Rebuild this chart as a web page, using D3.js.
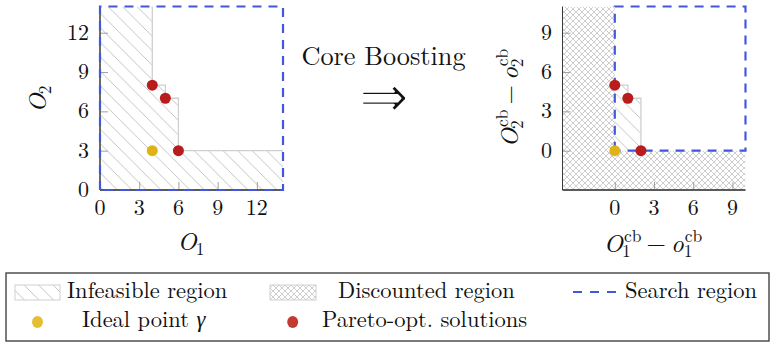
<!DOCTYPE html>
<html>
<head>
<meta charset="utf-8">
<script src="https://cdn.jsdelivr.net/npm/d3@7"></script>
<style>
  html, body { margin: 0; padding: 0; background: #fff; }
  svg { display: block; }
</style>
</head>
<body>
<svg id="chart" width="772" height="343"></svg>
<script>
// ---- data ----
const objDomain = [0, 14];                 // original objective space O1, O2
const objTicks = [0, 3, 6, 9, 12];
const paretoPoints = [[4, 8], [5, 7], [6, 3]];
const idealPoint = [4, 3];

const cbDomainX = [-4, 10];                // core-boosted space O^cb - o^cb
const cbDomainY = [-3, 11];
const cbTicks = [0, 3, 6, 9];
const cbPareto = [[0, 5], [1, 4], [2, 0]];
const cbIdeal = [0, 0];

const legendRow1 = ["Infeasible region", "Discounted region", "Search region"];

// ---- styles ----
const FONT = '"Latin Modern Roman", "Liberation Serif", serif';
const BLUE = "#4357dd", RED = "#b81c1c", GOLD = "#dfb314";
const HATCH = "#bdbdbd", TICK = "#a0a0a0", AXIS = "#5a5a5a";

const svg = d3.select("#chart").style("font-family", FONT);
const defs = svg.append("defs");

function txt(parent, size) {
  return parent.append("text").style("font-family", FONT).style("font-size", size + "px").attr("fill", "#111");
}

// north-west lines hatch
const hp = defs.append("pattern").attr("id", "nwlines")
  .attr("patternUnits", "userSpaceOnUse").attr("width", 14.5).attr("height", 14.5);
hp.append("path").attr("d", "M-2,-2L16.5,16.5M-2,12.5L2,16.5M12.5,-2L16.5,2")
  .attr("stroke", HATCH).attr("stroke-width", 0.9).attr("fill", "none");

// crosshatch
const cp = defs.append("pattern").attr("id", "xhatch")
  .attr("patternUnits", "userSpaceOnUse").attr("width", 6).attr("height", 6);
cp.append("path").attr("d", "M0,0L6,6M6,0L0,6")
  .attr("stroke", "#c9c9c9").attr("stroke-width", 0.9).attr("fill", "none");

// staircase of the dominated region through sorted Pareto points
function staircase(pts, top, right) {
  const s = pts.slice().sort((a, b) => a[0] - b[0]);
  const out = [];
  if (top !== null) out.push([s[0][0], top]);
  s.forEach((p, i) => {
    if (i > 0) out.push([p[0], s[i - 1][1]]);
    out.push(p);
  });
  if (right !== null) out.push([right, s[s.length - 1][1]]);
  return out;
}

// math-style label built from base / sup / sub pieces
function mathLabel(parent, parts, x, y, rot) {
  const g = parent.append("g").attr("transform", `translate(${x},${y}) rotate(${rot || 0})`);
  const inner = g.append("g");
  let cx = 0, pend = 0;
  parts.forEach(p => {
    if (p.type === "base" && pend) { cx += pend; pend = 0; }
    const t = txt(inner, p.size).attr("x", cx + (p.dx || 0)).attr("y", p.dy || 0)
      .style("font-style", p.italic ? "italic" : "normal")
      .text(p.t);
    const w = t.node().getComputedTextLength() + (p.dx || 0);
    if (p.type === "base") cx += w + (p.kern || 0);
    else if (p.type === "sup") pend = w;
    else { cx += Math.max(pend, w); pend = 0; }
  });
  cx += pend;
  inner.attr("transform", `translate(${-cx / 2},0)`);
  return g;
}

const BS = 25, SS = 17.5;
const O = (sub) => [
  { type: "base", t: "O", italic: true, size: BS },
  { type: "sub", t: sub, size: SS, dy: 5, dx: -1 }
];
const Ocb = (sub, lower) => [
  { type: "base", t: lower ? "o" : "O", italic: true, size: BS },
  { type: "sup", t: "cb", size: SS, dy: -10.5, dx: 1 },
  { type: "sub", t: sub, size: SS, dy: 5, dx: lower ? 0 : -1 }
];

// ---------------- left panel ----------------
{
  const x = d3.scaleLinear().domain(objDomain).range([100, 283]);
  const y = d3.scaleLinear().domain(objDomain).range([190, 6.5]);
  const g = svg.append("g");
  defs.append("clipPath").attr("id", "clipL").append("rect")
    .attr("x", 100).attr("y", 6.5).attr("width", 183).attr("height", 183.5);
  const pc = g.append("g").attr("clip-path", "url(#clipL)");

  const stair = staircase(paretoPoints, objDomain[1], objDomain[1]);
  const poly = stair.concat([[objDomain[1], objDomain[0]], [objDomain[0], objDomain[0]], [objDomain[0], objDomain[1]]]);
  const line = d3.line().x(d => x(d[0])).y(d => y(d[1]));
  pc.append("path").attr("d", line(poly) + "Z").attr("fill", "url(#nwlines)");
  pc.append("path").attr("d", line(stair)).attr("fill", "none").attr("stroke", "#cfcfcf").attr("stroke-width", 1.3);

  // ticks pointing inward
  const xa = d3.axisTop(x).tickValues(objTicks).tickSize(8).tickFormat("");
  const ya = d3.axisRight(y).tickValues(objTicks).tickSize(8).tickFormat("");
  const gx = g.append("g").attr("transform", `translate(0,${y(0)})`).call(xa);
  const gy = g.append("g").attr("transform", `translate(${x(0)},0)`).call(ya);
  [gx, gy].forEach(a => { a.select(".domain").remove(); a.selectAll("line").attr("stroke", TICK).attr("stroke-width", 1); });

  g.append("line").attr("x1", x(0)).attr("x2", x(14)).attr("y1", y(0)).attr("y2", y(0)).attr("stroke", AXIS).attr("stroke-width", 1.8);
  g.append("line").attr("x1", x(0)).attr("x2", x(0)).attr("y1", y(0)).attr("y2", y(14)).attr("stroke", AXIS).attr("stroke-width", 1.8);

  // search region
  g.append("path").attr("d", line([[0, 0], [0, 14], [14, 14], [14, 0], [0, 0]]))
    .attr("fill", "none").attr("stroke", BLUE).attr("stroke-width", 2.2).attr("stroke-dasharray", "9,7");

  objTicks.forEach(d => txt(g, 22).attr("x", x(d)).attr("y", 215).attr("text-anchor", "middle").text(d));
  objTicks.forEach(d => txt(g, 22).attr("x", 89).attr("y", y(d) + 7).attr("text-anchor", "end").text(d));

  g.append("circle").attr("cx", x(idealPoint[0])).attr("cy", y(idealPoint[1])).attr("r", 5.5).attr("fill", GOLD);
  g.selectAll("circle.p").data(paretoPoints).join("circle").attr("class", "p")
    .attr("cx", d => x(d[0])).attr("cy", d => y(d[1])).attr("r", 5.5).attr("fill", RED);

  mathLabel(g, O("1"), 191, 250, 0);
  mathLabel(g, O("2"), 46, 99, -90);
}

// ---------------- centre ----------------
txt(svg, 26.3).attr("x", 383.5).attr("y", 65).attr("text-anchor", "middle").text("Core Boosting");
// implication arrow, thinned with a white outline
svg.append("text").attr("x", 384).attr("y", 116.5).attr("text-anchor", "middle").attr("fill", "#111")
  .attr("stroke", "#fff").attr("stroke-width", 2.2).attr("stroke-linejoin", "round")
  .style("font-family", '"DejaVu Sans"').style("font-size", "60px").text("\u21d2");

// ---------------- right panel ----------------
{
  const x = d3.scaleLinear().domain(cbDomainX).range([562.5, 745.5]);
  const y = d3.scaleLinear().domain(cbDomainY).range([190, 6.5]);
  const g = svg.append("g");
  defs.append("clipPath").attr("id", "clipR").append("rect")
    .attr("x", 562.5).attr("y", 6.5).attr("width", 183).attr("height", 183.5);
  const pc = g.append("g").attr("clip-path", "url(#clipR)");
  const line = d3.line().x(d => x(d[0])).y(d => y(d[1]));

  // discounted region: everything outside the positive quadrant
  const outer = line([[cbDomainX[0], cbDomainY[0]], [cbDomainX[1], cbDomainY[0]], [cbDomainX[1], cbDomainY[1]], [cbDomainX[0], cbDomainY[1]]]) + "Z";
  const quad = line([[0, 0], [cbDomainX[1], 0], [cbDomainX[1], cbDomainY[1]], [0, cbDomainY[1]]]) + "Z";
  pc.append("path").attr("d", outer + quad).attr("fill-rule", "evenodd").attr("fill", "url(#xhatch)");

  const stair = staircase(cbPareto, null, null);
  const poly = stair.concat([cbIdeal]);
  pc.append("path").attr("d", line(poly) + "Z").attr("fill", "url(#nwlines)");
  pc.append("path").attr("d", line(stair)).attr("fill", "none").attr("stroke", "#cfcfcf").attr("stroke-width", 1.3);

  const xa = d3.axisTop(x).tickValues(cbTicks).tickSize(8).tickFormat("");
  const ya = d3.axisRight(y).tickValues(cbTicks).tickSize(8).tickFormat("");
  const gx = g.append("g").attr("transform", `translate(0,${y(cbDomainY[0])})`).call(xa);
  const gy = g.append("g").attr("transform", `translate(${x(cbDomainX[0])},0)`).call(ya);
  [gx, gy].forEach(a => { a.select(".domain").remove(); a.selectAll("line").attr("stroke", TICK).attr("stroke-width", 1); });

  g.append("line").attr("x1", x(cbDomainX[0])).attr("x2", x(cbDomainX[1])).attr("y1", y(cbDomainY[0])).attr("y2", y(cbDomainY[0])).attr("stroke", AXIS).attr("stroke-width", 1.8);
  g.append("line").attr("x1", x(cbDomainX[0])).attr("x2", x(cbDomainX[0])).attr("y1", y(cbDomainY[0])).attr("y2", y(cbDomainY[1])).attr("stroke", "#222").attr("stroke-width", 0.9);

  g.append("path").attr("d", line([[0, 0], [0, cbDomainY[1]], [cbDomainX[1], cbDomainY[1]], [cbDomainX[1], 0], [0, 0]]))
    .attr("fill", "none").attr("stroke", BLUE).attr("stroke-width", 2.2).attr("stroke-dasharray", "9,7");

  cbTicks.forEach(d => txt(g, 22).attr("x", x(d)).attr("y", 215).attr("text-anchor", "middle").text(d));
  cbTicks.forEach(d => txt(g, 22).attr("x", 552).attr("y", y(d) + 7).attr("text-anchor", "end").text(d));

  g.append("circle").attr("cx", x(cbIdeal[0])).attr("cy", y(cbIdeal[1])).attr("r", 5.5).attr("fill", GOLD);
  g.selectAll("circle.p").data(cbPareto).join("circle").attr("class", "p")
    .attr("cx", d => x(d[0])).attr("cy", d => y(d[1])).attr("r", 5.5).attr("fill", RED);

  const lab = (i) => Ocb(i, false)
    .concat([{ type: "base", t: "\u2212", size: BS, dx: 5, kern: 5 }])
    .concat(Ocb(i, true));
  mathLabel(g, lab("1"), 653, 252, 0);
  mathLabel(g, lab("2"), 518, 98, -90);
}

// ---------------- legend ----------------
{
  const g = svg.append("g");
  g.append("rect").attr("x", 6).attr("y", 273).attr("width", 763).attr("height", 68)
    .attr("fill", "#fff").attr("stroke", "#444").attr("stroke-width", 1.4);

  g.append("rect").attr("x", 15).attr("y", 285).attr("width", 45).attr("height", 15)
    .attr("fill", "url(#nwlines)").attr("stroke", "#cfcfcf").attr("stroke-width", 1);
  g.append("rect").attr("x", 270).attr("y", 285).attr("width", 46).attr("height", 15)
    .attr("fill", "url(#xhatch)").attr("stroke", "#cfcfcf").attr("stroke-width", 1);
  g.append("line").attr("x1", 573).attr("x2", 616).attr("y1", 292).attr("y2", 292)
    .attr("stroke", BLUE).attr("stroke-width", 2.2).attr("stroke-dasharray", "9,8");
  g.append("ellipse").attr("cx", 37.5).attr("cy", 322).attr("rx", 5.5).attr("ry", 6).attr("fill", "#e4bf36");
  g.append("ellipse").attr("cx", 292.7).attr("cy", 322).attr("rx", 5.5).attr("ry", 6).attr("fill", "#c43a30");

  const row1 = [67, 338, 625];
  legendRow1.forEach((t, i) => txt(g, 22.5).attr("x", row1[i]).attr("y", 298).text(t));
  const ideal = txt(g, 22.5).attr("x", 82).attr("y", 327);
  ideal.append("tspan").text("Ideal point ");
  ideal.append("tspan").style("font-style", "italic").text("\u03b3");
  txt(g, 22.5).attr("x", 322).attr("y", 327).text("Pareto-opt. solutions");
}
</script>
</body>
</html>
